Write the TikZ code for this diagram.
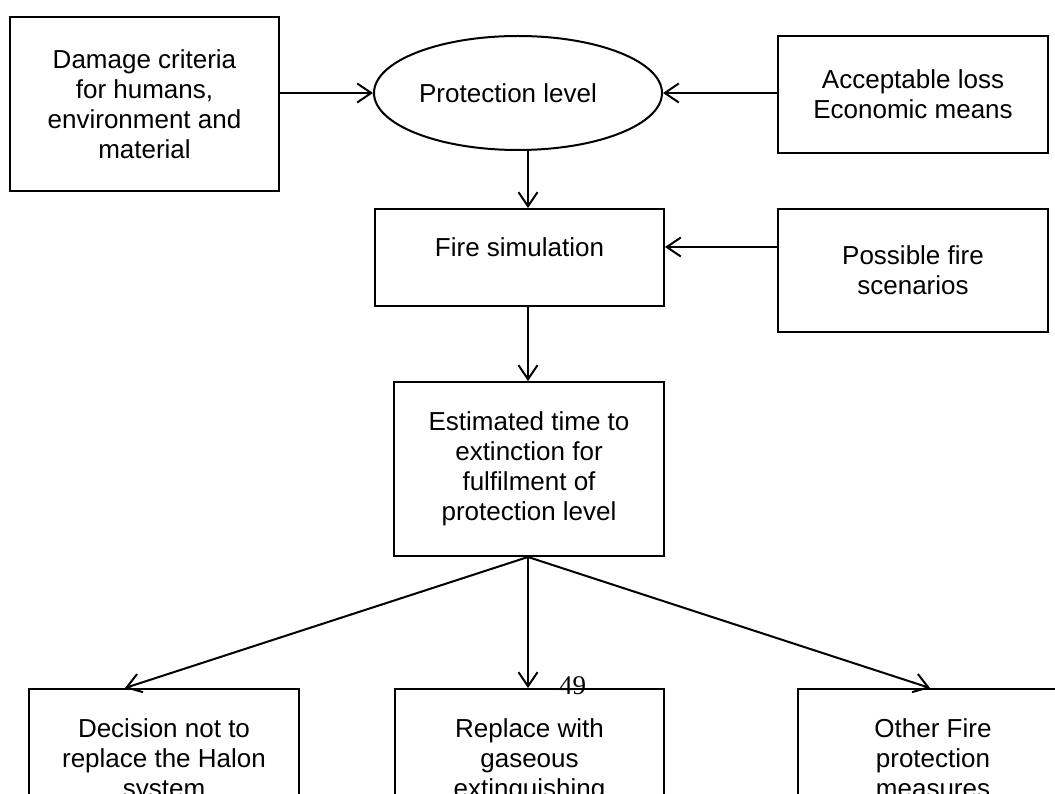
\documentclass[tikz,border=0pt]{standalone}
\usepackage{fontspec}
\setmainfont{Liberation Sans}
\newfontfamily\pagenumfont{Liberation Serif}
\usetikzlibrary{arrows.meta,calc,shapes.geometric}
\tikzset{
  box/.style={draw, line width=2pt, rectangle, anchor=north west, inner sep=0pt, align=center},
  conn/.style={line width=2pt, -{Straight Barb[length=14pt,width=19pt,line width=2pt]}},
  txt/.style={inner sep=0pt, align=center, font=\fontsize{26}{30}\selectfont}
}
\begin{document}
\begin{tikzpicture}[x=1pt,y=-1pt, font=\fontsize{26}{30}\selectfont]
\useasboundingbox (0,0) rectangle (1055,794);
\clip (0,0) rectangle (1055,794);
% nodes
\node[box, minimum width=269pt, minimum height=174pt] (dmg) at (9,16)
  {Damage criteria\\for humans,\\environment and\\material};
\node[draw, line width=2pt, ellipse, minimum width=288pt, minimum height=114pt, inner sep=0pt,
  label={[txt, xshift=-10pt]center:Protection level}] (ell) at (518,93) {};
\node[box, minimum width=270pt, minimum height=117pt] (acc) at (777,35)
  {Acceptable loss\\Economic means};
\node[box, minimum width=289pt, minimum height=97pt,
  label={[txt, yshift=10.5pt]center:Fire simulation}] (fire) at (374,208) {};
\node[box, minimum width=270pt, minimum height=123pt] (scen) at (777,208)
  {Possible fire\\scenarios};
\node[box, minimum width=270pt, minimum height=174pt] (est) at (393,381)
  {Estimated time to\\extinction for\\fulfilment of\\protection level};
\node[box, minimum width=270pt, minimum height=174pt,
  label={[txt, anchor=north, yshift=-30pt]north:Decision not to\\replace the Halon\\system}] (b1) at (28,688) {};
\node[box, minimum width=269pt, minimum height=174pt,
  label={[txt, anchor=north, yshift=-30pt]north:Replace with\\gaseous\\extinguishing}] (b2) at (394,688) {};
\node[box, minimum width=270pt, minimum height=174pt,
  label={[txt, anchor=north, yshift=-30pt]north:Other Fire\\protection\\measures}] (b3) at (797,688) {};
\node[inner sep=0pt, anchor=south west, font=\pagenumfont\fontsize{27}{30}\selectfont] (pg) at (559,695) {49};
% helper coordinates
\coordinate (vx) at (528,0);
\coordinate (hy) at (0,247);
\coordinate (t1) at ($(b1.north west)+(97,0)$);
\coordinate (t3) at ($(b3.north west)+(133,0)$);
% connectors
\draw[conn] (ell.west -| dmg.east) -- (ell.west);
\draw[conn] (ell.east -| acc.west) -- (ell.east);
\draw[conn] (ell.south -| vx) -- (fire.north -| vx);
\draw[conn] (scen.west |- hy) -- (fire.east |- hy);
\draw[conn] (fire.south -| vx) -- (est.north -| vx);
\draw[conn] (est.south -| vx) -- (t1);
\draw[conn] (est.south -| vx) -- (b2.north -| vx);
\draw[conn] (est.south -| vx) -- (t3);
\end{tikzpicture}
\end{document}
